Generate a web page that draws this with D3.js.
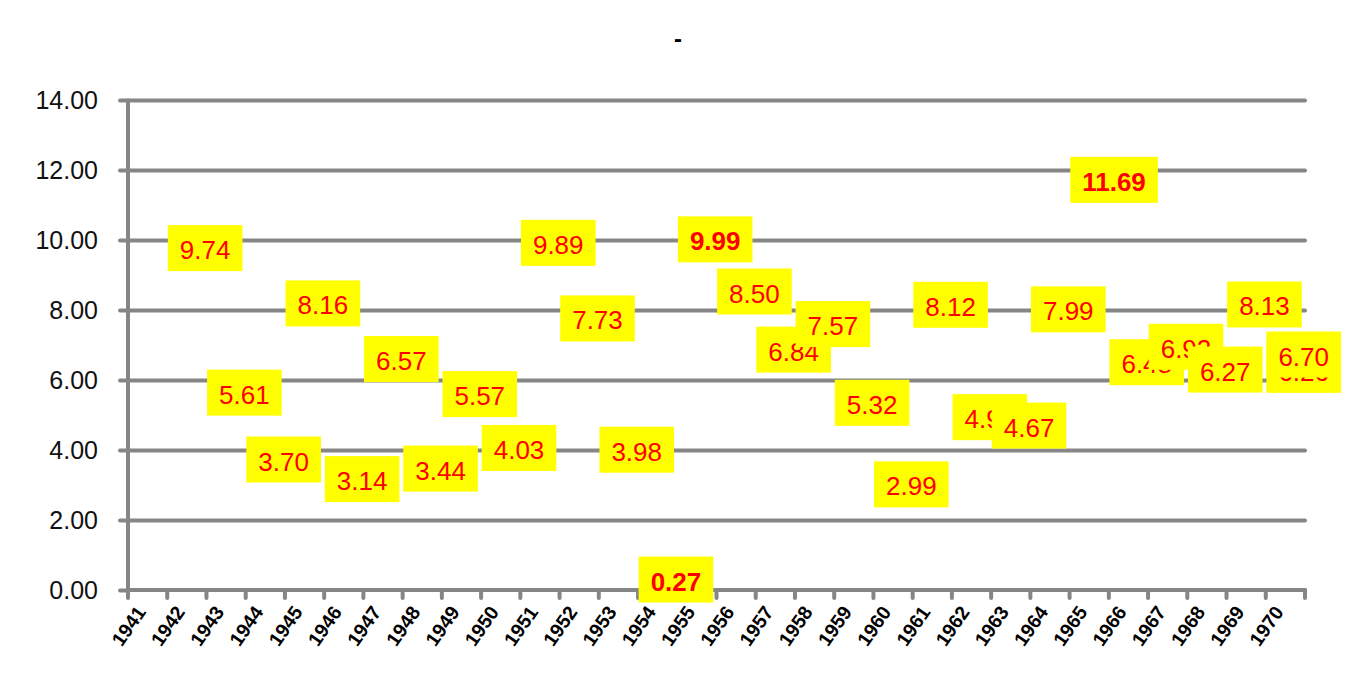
<!DOCTYPE html>
<html>
<head>
<meta charset="utf-8">
<script src="https://cdn.jsdelivr.net/npm/d3@7"></script>
<style>
  html, body { margin: 0; padding: 0; background: #fff; }
  svg { display: block; }
</style>
</head>
<body>
<svg id="chart" width="1346" height="692"></svg>
<script>
// ---- data ----
const title = "-";
const years = ["1941","1942","1943","1944","1945","1946","1947","1948","1949","1950",
               "1951","1952","1953","1954","1955","1956","1957","1958","1959","1960",
               "1961","1962","1963","1964","1965","1966","1967","1968","1969","1970"];
const values = [null, 9.74, 5.61, 3.70, 8.16, 3.14, 6.57, 3.44, 5.57, 4.03,
                9.89, 7.73, 3.98, 0.27, 9.99, 8.50, 6.84, 7.57, 5.32, 2.99,
                8.12, 4.91, 4.67, 7.99, 11.69, 6.48, 6.92, 6.27, 8.13, 6.70];
const boldYears = ["1954", "1955", "1965"];
// a label hidden behind the 1970 label
const extraYears = ["1970"];
const extraValues = [6.26];
const yTicks = [0, 2, 4, 6, 8, 10, 12, 14];

// ---- layout ----
const svg = d3.select("#chart");
const mLeft = 128, mRight = 1305, mTop = 100, mBottom = 590;
const gridColor = "#868686";

const x = d3.scaleBand().domain(years).range([mLeft, mRight]).padding(0);
const y = d3.scaleLinear().domain([0, 14]).range([mBottom, mTop]);

// title
svg.append("text")
  .attr("x", 678).attr("y", 47)
  .attr("text-anchor", "middle")
  .attr("font-family", "Liberation Sans, Arial, sans-serif")
  .attr("font-size", 24).attr("font-weight", "bold")
  .attr("fill", "#000")
  .text(title);

// gridlines
const grid = svg.append("g").attr("transform", `translate(${mLeft},0)`)
  .call(d3.axisLeft(y).tickValues(yTicks.filter(d => d > 0)).tickSize(-(mRight - mLeft)).tickFormat(""));
grid.select(".domain").remove();
grid.selectAll("line").attr("stroke", gridColor).attr("stroke-width", 4).attr("stroke-linecap", "round");

// y axis with ticks and labels
const yAxis = svg.append("g").attr("transform", `translate(${mLeft},0)`)
  .call(d3.axisLeft(y).tickValues(yTicks).tickSize(8).tickPadding(22).tickFormat(d3.format(".2f")));
yAxis.select(".domain").attr("stroke", gridColor).attr("stroke-width", 4).attr("d", `M0,${mTop}V${mBottom}`);
yAxis.selectAll("line").attr("stroke", gridColor).attr("stroke-width", 4).attr("stroke-linecap", "round");
yAxis.selectAll("text")
  .attr("font-family", "Liberation Sans, Arial, sans-serif")
  .attr("font-size", 25).attr("fill", "#111");

// x axis line
svg.append("line")
  .attr("x1", mLeft).attr("x2", mRight).attr("y1", mBottom).attr("y2", mBottom)
  .attr("stroke", gridColor).attr("stroke-width", 4).attr("stroke-linecap", "round");

// x ticks at category boundaries
const boundaries = [mLeft].concat(years.map(d => x(d) + x.bandwidth()));
svg.append("g").selectAll("line")
  .data(boundaries)
  .join("line")
  .attr("x1", d => d).attr("x2", d => d)
  .attr("y1", mBottom).attr("y2", mBottom + 8)
  .attr("stroke", gridColor).attr("stroke-width", 4).attr("stroke-linecap", "round");

// x labels
const xAxis = svg.append("g").attr("transform", `translate(0,${mBottom})`)
  .call(d3.axisBottom(x).tickSize(0).tickPadding(0));
xAxis.select(".domain").remove();
xAxis.selectAll("text")
  .attr("font-family", "Liberation Sans, Arial, sans-serif")
  .attr("font-size", 19.5).attr("font-weight", "bold").attr("fill", "#000")
  .attr("text-anchor", "end")
  .attr("dy", "0")
  .attr("y", 0)
  .attr("transform", "translate(-1,22) rotate(-55)");

// data labels
const labelData = extraYears.map((yr, i) => ({ year: yr, value: extraValues[i], extra: true }))
  .concat(years.map((yr, i) => ({ year: yr, value: values[i], extra: false })).filter(d => d.value != null));

const labels = svg.append("g").selectAll("g")
  .data(labelData)
  .join("g");

labels.each(function(d) {
  const g = d3.select(this);
  const bold = boldYears.includes(d.year) && !d.extra;
  const cx = x(d.year) + x.bandwidth() / 2;
  const cy = y(d.value);
  const rect = g.append("rect").attr("fill", "#FFFF00");
  const t = g.append("text")
    .attr("font-family", "Liberation Sans, Arial, sans-serif")
    .attr("font-size", 26)
    .attr("font-weight", bold ? "bold" : "normal")
    .attr("fill", "#FF0000")
    .text(d3.format(".2f")(d.value));
  const w = t.node().getComputedTextLength();
  const pad = 12;
  const bx = cx - 19;
  rect.attr("x", bx).attr("y", cy - 24).attr("width", w + 2 * pad).attr("height", 46);
  t.attr("x", bx + pad).attr("y", cy + 10);
});
</script>
</body>
</html>
